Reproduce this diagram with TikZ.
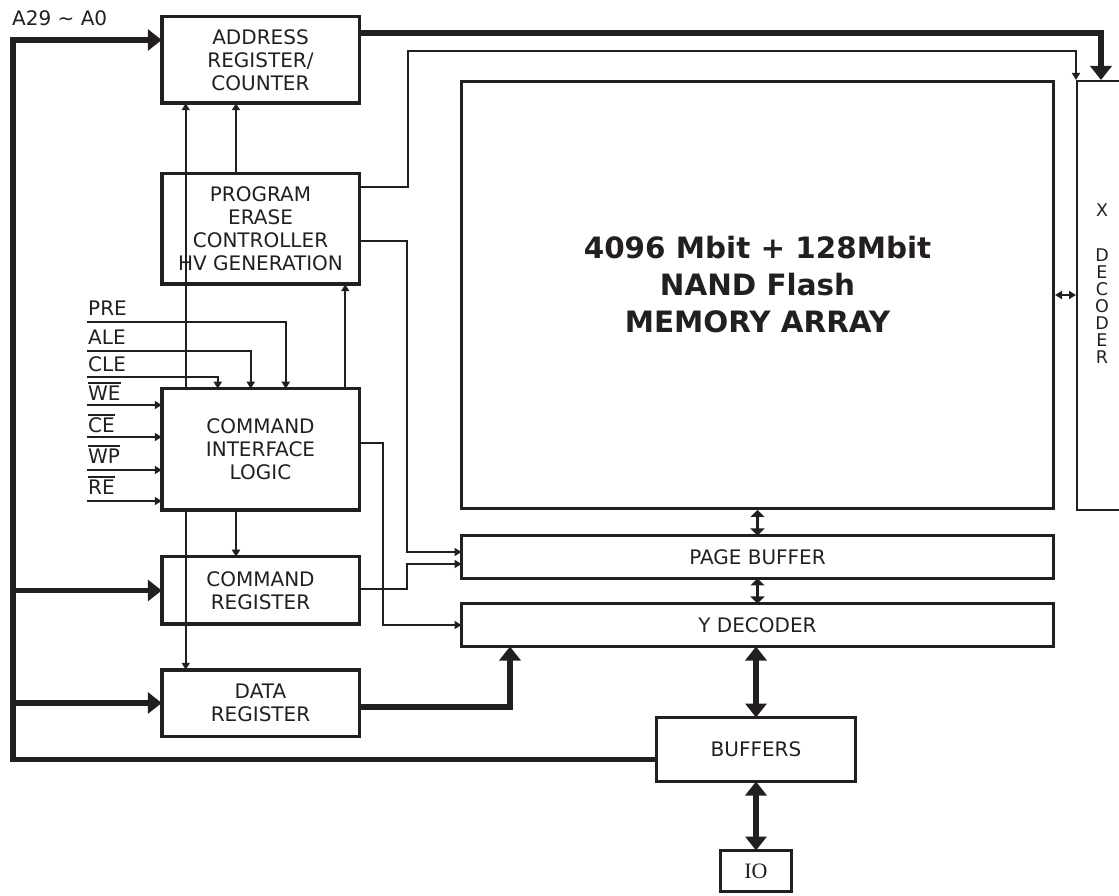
\documentclass[tikz,border=0pt]{standalone}
\usepackage{fontspec}
\setmainfont{DejaVu Sans}
\newfontfamily\iofont{Liberation Serif}
\usepackage{tikz}
\usetikzlibrary{arrows.meta}
\definecolor{ink}{RGB}{35,31,32}
\newcommand\negsig[1]{\vbox{\hrule height 2pt\kern 2.5pt\hbox{#1}}}

\begin{document}
\begin{tikzpicture}[x=1pt,y=1pt,
    every node/.style={text=ink},
    blk/.style={draw=ink,line width=3.5pt,inner sep=0pt,outer sep=0pt,align=center,
      minimum width=197.5,font=\fontsize{20}{23}\selectfont},
    bar/.style={draw=ink,line width=3pt,inner sep=0pt,outer sep=0pt,
      font=\fontsize{20}{23}\selectfont},
    lbl/.style={inner sep=0pt,font=\fontsize{20}{23}\selectfont},
    sig/.style={draw=ink,line width=2pt,>={Triangle[length=7pt,width=8pt]}},
    pin/.style={draw=ink,line width=2.5pt,>={Triangle[length=7pt,width=14pt]}},
    bus/.style={draw=ink,line width=5.5pt,>={Triangle[length=14pt,width=21pt]}}]
  \useasboundingbox (0,0) rectangle (1119,895);

  % blocks
  \node[blk,minimum height=86.5] (addr) at (260.5,835) {ADDRESS\\REGISTER/\\COUNTER};
  \node[blk,minimum height=110.5] (prog) at (260.5,666) {PROGRAM\\ERASE\\CONTROLLER\\HV GENERATION};
  \node[blk,minimum height=121.5] (cil) at (260.5,445.5) {COMMAND\\INTERFACE\\LOGIC};
  \node[blk,minimum height=67.5] (creg) at (260.5,304.5) {COMMAND\\REGISTER};
  \node[blk,minimum height=66.5] (dreg) at (260.5,192) {DATA\\REGISTER};
  \node[draw=ink,line width=3.3pt,inner sep=0pt,minimum width=591.7,minimum height=426.7] (mem) at (757.5,600) {};
  \node[font=\bfseries\fontsize{29.4}{37}\selectfont,align=center] (memtext) at (757.5,610)
    {4096 Mbit + 128Mbit\\NAND Flash\\MEMORY ARRAY};
  \node[draw=ink,line width=2pt,inner sep=0pt,minimum width=63,minimum height=429] (xdec) at (1108.5,599.5) {};
  \node[lbl,font=\fontsize{17.5}{17}\selectfont] (xlbl) at (1102,685) {X};
  \node[lbl,align=center,font=\fontsize{17.5}{17}\selectfont] (declbl) at (1102,589) {D\\E\\C\\O\\D\\E\\R};
  \node[bar,minimum width=592,minimum height=43] (pbuf) at (757.5,338) {PAGE BUFFER};
  \node[bar,minimum width=592,minimum height=43] (ydec) at (757.5,270) {Y DECODER};
  \node[bar,minimum width=199,minimum height=64] (bufs) at (756,145.5) {BUFFERS};
  \node[bar,minimum width=71,minimum height=41,font=\iofont\fontsize{22}{24}\selectfont] (io) at (756,24) {IO};

  % address bus
  \coordinate (abus) at (13,855);
  \node[lbl,anchor=base west] (alabel) at (12,869) {A29 \textasciitilde{} A0};
  \draw[bus,->] ([yshift=-10]bufs.west) -| (abus) -- ([yshift=20]addr.west);
  \draw[bus,->] (abus |- creg.west) -- (creg.west);
  \draw[bus,->] (abus |- dreg.west) -- (dreg.west);
  \draw[bus,->] ([yshift=27]addr.east) -| ([xshift=25]xdec.north west);
  \draw[bus,->] ([yshift=-4]dreg.east) -| ([xshift=48.5]ydec.south west);
  \draw[bus,<->] (bufs.north |- ydec.south) -- (bufs.north);
  \draw[bus,<->] (bufs.south) -- (io.north);

  % array links
  \draw[pin,<->] (mem.south) -- (pbuf.north);
  \draw[pin,<->] (pbuf.south) -- (ydec.north);
  \draw[sig,<->] (mem.east) -- (mem.east -| xdec.west);

  % control lines
  \draw[sig,->] ([yshift=42]prog.east) -- ++(48.75,0) |- ([yshift=29]xdec.north west) -- (xdec.north west);
  \draw[sig,->] ([yshift=-12]prog.east) -- ++(47.75,0) |- ([yshift=5]pbuf.west);
  \draw[sig,->] ([yshift=1.5]creg.east) -- ++(47.75,0) |- ([yshift=-7]pbuf.west);
  \draw[sig,->] ([yshift=6.5]cil.east) -- ++(23.75,0) |- (ydec.west);
  \draw[sig,->] ([xshift=24]cil.north west) -- ([xshift=24]addr.south west);
  \draw[sig,->] ([xshift=24]cil.south west) -- ([xshift=24]dreg.north west);
  \draw[sig,->] ([xshift=-24.5]prog.north) -- ([xshift=-24.5]addr.south);
  \draw[sig,->] ([xshift=-24.5]cil.south) -- ([xshift=-24.5]creg.north);
  \draw[sig,->] ([xshift=-14]cil.north east) -- ([xshift=-14]prog.south east);

  % input pins
  \coordinate (prein) at (87,573);
  \coordinate (alein) at (87,544);
  \coordinate (clein) at (87,518);
  \coordinate (wein) at (87,490);
  \coordinate (cein) at (87,458);
  \coordinate (wpin) at (87,425);
  \coordinate (rein) at (87,394);
  \node[lbl,anchor=base west] (pre) at ([shift={(1,6)}]prein) {PRE};
  \node[lbl,anchor=base west] (ale) at ([shift={(1,6)}]alein) {ALE};
  \node[lbl,anchor=base west] (cle) at ([shift={(1,5)}]clein) {CLE};
  \node[lbl,anchor=base west] (we) at ([shift={(1,4)}]wein) {\negsig{WE}};
  \node[lbl,anchor=base west] (ce) at ([shift={(1,4)}]cein) {\negsig{CE}};
  \node[lbl,anchor=base west] (wp) at ([shift={(1,6)}]wpin) {\negsig{WP}};
  \node[lbl,anchor=base west] (re) at ([shift={(1,6)}]rein) {\negsig{RE}};
  \draw[sig,->] (prein) -| ([xshift=124]cil.north west);
  \draw[sig,->] (alein) -| ([xshift=89]cil.north west);
  \draw[sig,->] (clein) -| ([xshift=56]cil.north west);
  \draw[sig,->] (wein) -- (wein -| cil.west);
  \draw[sig,->] (cein) -- (cein -| cil.west);
  \draw[sig,->] (wpin) -- (wpin -| cil.west);
  \draw[sig,->] (rein) -- (rein -| cil.west);
\end{tikzpicture}
\end{document}
